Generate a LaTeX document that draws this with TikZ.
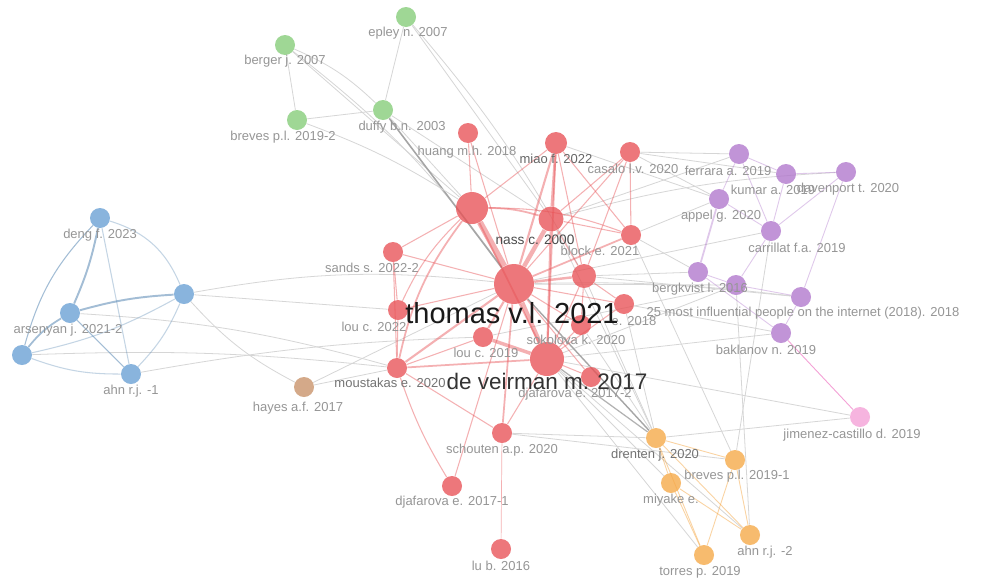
\documentclass[tikz,border=0pt]{standalone}
\usepackage{fontspec}
\setmainfont{Liberation Sans}
\usetikzlibrary{positioning}
\pgfdeclarelayer{bg}
\pgfdeclarelayer{edges}
\pgfsetlayers{bg,edges,main}

\definecolor{vred}{RGB}{232,82,86}
\definecolor{vgreen}{RGB}{132,204,120}
\definecolor{vblue}{RGB}{104,160,212}
\definecolor{vpurple}{RGB}{176,118,204}
\definecolor{vorange}{RGB}{246,168,70}
\definecolor{vbrown}{RGB}{200,146,104}
\definecolor{vpink}{RGB}{244,160,214}
\definecolor{lblgray}{RGB}{150,150,150}

\begin{document}
\begin{tikzpicture}[x=0.02cm, y=-0.02cm,
    pub/.style={circle, inner sep=0pt, minimum size=0.4cm, fill opacity=0.78},
    lbl/.style={font=\fontsize{7.4}{8}\selectfont, text=lblgray, inner sep=0pt},
    redge/.style={draw=vred, draw opacity=0.45, line width=0.6pt},
    gedge/.style={draw=black!16, line width=0.45pt},
    bedge/.style={draw=vblue!85!black, draw opacity=0.55, line width=0.6pt},
    pedge/.style={draw=vpurple, draw opacity=0.4, line width=0.5pt},
    oedge/.style={draw=vorange, draw opacity=0.5, line width=0.5pt}]
  \begin{pgfonlayer}{bg}
    \fill[white] (0,0) rectangle (996,582);
  \end{pgfonlayer}
  \useasboundingbox (0,0) rectangle (996,582);

  % green cluster
  \node[pub, fill=vgreen] (epley) at (406,17) {};
  \node[pub, fill=vgreen] (berger) at (285,45) {};
  \node[pub, fill=vgreen] (brevesB) at (297,120) {};
  \node[pub, fill=vgreen] (duffy) at (383,110) {};
  % blue cluster
  \node[pub, fill=vblue] (deng) at (100,218) {};
  \node[pub, fill=vblue] (bx) at (184,294) {};
  \node[pub, fill=vblue] (arsenyan) at (70,313) {};
  \node[pub, fill=vblue] (by) at (22,355) {};
  \node[pub, fill=vblue] (ahnA) at (131,374) {};
  \node[pub, fill=vbrown] (hayes) at (304,387) {};
  % red cluster
  \node[pub, fill=vred, minimum size=0.8cm] (thomas) at (514,284) {};
  \node[pub, fill=vred, minimum size=0.68cm] (veirman) at (547,359) {};
  \node[pub, fill=vred, minimum size=0.5cm] (nass) at (551,219) {};
  \node[pub, fill=vred, minimum size=0.64cm] (rbig) at (472,208) {};
  \node[pub, fill=vred] (huang) at (468,133) {};
  \node[pub, fill=vred, minimum size=0.44cm] (miao) at (556,143) {};
  \node[pub, fill=vred] (casalo) at (630,152) {};
  \node[pub, fill=vred] (block) at (631,235) {};
  \node[pub, fill=vred] (sands) at (393,252) {};
  \node[pub, fill=vred] (louB) at (398,310) {};
  \node[pub, fill=vred, minimum size=0.48cm] (rmid) at (584,276) {};
  \node[pub, fill=vred] (rE) at (624,304) {};
  \node[pub, fill=vred] (sokolova) at (581,325) {};
  \node[pub, fill=vred] (louA) at (483,337) {};
  \node[pub, fill=vred] (moustakas) at (397,368) {};
  \node[pub, fill=vred] (djafB) at (591,377) {};
  \node[pub, fill=vred] (schouten) at (502,433) {};
  \node[pub, fill=vred] (djafA) at (452,486) {};
  \node[pub, fill=vred] (lub) at (501,549) {};
  % purple cluster
  \node[pub, fill=vpurple] (ferrara) at (739,154) {};
  \node[pub, fill=vpurple] (kumar) at (786,174) {};
  \node[pub, fill=vpurple] (davenport) at (846,172) {};
  \node[pub, fill=vpurple] (appel) at (719,199) {};
  \node[pub, fill=vpurple] (carrillat) at (771,231) {};
  \node[pub, fill=vpurple] (bergkvist) at (698,272) {};
  \node[pub, fill=vpurple] (px) at (736,285) {};
  \node[pub, fill=vpurple] (most) at (801,297) {};
  \node[pub, fill=vpurple] (baklanov) at (781,333) {};
  \node[pub, fill=vpink] (jimenez) at (860,417) {};
  % orange cluster
  \node[pub, fill=vorange] (drenten) at (656,438) {};
  \node[pub, fill=vorange] (brevesA) at (735,460) {};
  \node[pub, fill=vorange] (miyake) at (671,483) {};
  \node[pub, fill=vorange] (ahnB) at (750,535) {};
  \node[pub, fill=vorange] (torres) at (704,555) {};

  \begin{pgfonlayer}{edges}
    % gray links between clusters
    \draw[gedge] (berger) -- (brevesB);
    \draw[gedge] (berger) to[bend left=10] (duffy);
    \draw[gedge] (epley) -- (duffy);
    \draw[gedge] (brevesB) -- (duffy);
    \draw[gedge] (epley) -- (nass);
    \draw[gedge] (berger) to[bend left=8] (thomas);
    \draw[gedge] (berger) -- (rbig);
    \draw[gedge, draw=black!35, line width=0.9pt] (duffy) -- (thomas);
    \draw[gedge] (duffy) -- (rbig);
    \draw[gedge] (duffy) -- (nass);
    \draw[gedge] (brevesB) to[bend left=6] (rbig);
    \draw[gedge] (epley) to[bend left=6] (rmid);
    \draw[gedge] (bx) to[bend left=8] (thomas);
    \draw[gedge] (bx) to[bend right=10] (hayes);
    \draw[gedge] (bx) -- (louB);
    \draw[gedge] (arsenyan) to[bend left=6] (moustakas);
    \draw[gedge] (by) to[bend left=4] (moustakas);
    \draw[gedge] (ahnA) to[bend left=4] (louA);
    \draw[gedge] (hayes) -- (thomas);
    \draw[gedge] (hayes) -- (moustakas);
    \draw[gedge] (casalo) -- (ferrara);
    \draw[gedge] (casalo) -- (kumar);
    \draw[gedge] (casalo) -- (appel);
    \draw[gedge] (block) -- (appel);
    \draw[gedge] (block) -- (bergkvist);
    \draw[gedge] (nass) -- (ferrara);
    \draw[gedge] (nass) to[bend left=6] (davenport);
    \draw[gedge] (miao) -- (appel);
    \draw[gedge] (rmid) -- (bergkvist);
    \draw[gedge] (rmid) -- (most);
    \draw[gedge] (rE) -- (baklanov);
    \draw[gedge] (thomas) to[bend left=4] (most);
    \draw[gedge] (thomas) -- (carrillat);
    \draw[gedge] (thomas) -- (px);
    \draw[gedge] (veirman) -- (baklanov);
    \draw[gedge] (veirman) -- (px);
    \draw[gedge] (louA) -- (px);
    \draw[gedge, draw=black!35, line width=0.8pt] (drenten) -- (thomas);
    \draw[gedge, draw=black!30, line width=0.7pt] (drenten) -- (veirman);
    \draw[gedge] (drenten) -- (rmid);
    \draw[gedge] (drenten) -- (rE);
    \draw[gedge] (drenten) -- (schouten);
    \draw[gedge] (drenten) -- (nass);
    \draw[gedge] (drenten) -- (sokolova);
    \draw[gedge] (miyake) -- (veirman);
    \draw[gedge] (brevesA) -- (block);
    \draw[gedge] (brevesA) -- (carrillat);
    \draw[gedge] (torres) -- (veirman);
    \draw[gedge] (ahnB) -- (veirman);
    \draw[gedge] (ahnB) -- (px);
    \draw[gedge] (jimenez) -- (veirman);
    \draw[gedge] (jimenez) -- (drenten);
    \draw[gedge] (schouten) -- (brevesA);
    \draw[draw=vpink, line width=0.5pt] (jimenez) -- (baklanov);
    % blue links
    \draw[bedge, line width=1.1pt] (deng) to[bend left=6] (arsenyan);
    \draw[bedge] (deng) to[bend right=14] (by);
    \draw[bedge, draw opacity=0.35] (deng) -- (ahnA);
    \draw[bedge, draw opacity=0.35] (deng) to[bend left=25] (bx);
    \draw[bedge, line width=1.1pt] (arsenyan) to[bend left=6] (bx);
    \draw[bedge, line width=1pt] (arsenyan) to[bend right=10] (by);
    \draw[bedge] (arsenyan) -- (ahnA);
    \draw[bedge, draw opacity=0.35] (by) to[bend right=10] (ahnA);
    \draw[bedge, draw opacity=0.35] (by) to[bend right=8] (bx);
    \draw[bedge, draw opacity=0.35] (ahnA) to[bend right=10] (bx);
    % red links
    \draw[redge, line width=3.5pt] (thomas) -- (rbig);
    \draw[redge, line width=2.5pt] (thomas) -- (nass);
    \draw[redge, line width=2.5pt] (thomas) -- (veirman);
    \draw[redge, line width=1.2pt] (thomas) -- (miao);
    \draw[redge] (thomas) -- (huang);
    \draw[redge] (thomas) -- (casalo);
    \draw[redge, line width=1pt] (thomas) -- (block);
    \draw[redge] (thomas) -- (sands);
    \draw[redge] (thomas) -- (louB);
    \draw[redge, line width=1.4pt] (thomas) -- (rmid);
    \draw[redge] (thomas) -- (rE);
    \draw[redge] (thomas) -- (sokolova);
    \draw[redge, line width=1.2pt] (thomas) -- (louA);
    \draw[redge, line width=1.2pt] (thomas) -- (moustakas);
    \draw[redge] (thomas) -- (djafB);
    \draw[redge, line width=1pt] (thomas) -- (schouten);
    \draw[redge] (thomas) -- (djafA);
    \draw[redge, line width=1pt] (rbig) to[bend left=8] (nass);
    \draw[redge] (rbig) -- (huang);
    \draw[redge] (rbig) -- (miao);
    \draw[redge] (rbig) -- (sands);
    \draw[redge] (rbig) to[bend right=10] (louB);
    \draw[redge, line width=1pt] (rbig) to[bend right=12] (moustakas);
    \draw[redge] (rbig) to[bend left=10] (block);
    \draw[redge, line width=1pt] (rbig) -- (veirman);
    \draw[redge, line width=1.5pt] (nass) -- (miao);
    \draw[redge] (nass) -- (casalo);
    \draw[redge] (nass) -- (block);
    \draw[redge, line width=1.2pt] (nass) -- (veirman);
    \draw[redge] (nass) -- (rmid);
    \draw[redge] (miao) -- (rmid);
    \draw[redge, line width=1pt] (miao) -- (veirman);
    \draw[redge] (miao) -- (block);
    \draw[redge] (casalo) -- (block);
    \draw[redge] (casalo) -- (rmid);
    \draw[redge, line width=2pt] (veirman) -- (louA);
    \draw[redge, line width=1pt] (veirman) -- (moustakas);
    \draw[redge] (veirman) -- (rmid);
    \draw[redge] (veirman) -- (sokolova);
    \draw[redge] (veirman) -- (djafB);
    \draw[redge] (veirman) -- (schouten);
    \draw[redge] (veirman) -- (rE);
    \draw[redge] (moustakas) -- (louB);
    \draw[redge] (moustakas) -- (sands);
    \draw[redge] (moustakas) -- (louA);
    \draw[redge] (moustakas) -- (schouten);
    \draw[redge] (moustakas) to[bend right=6] (djafA);
    \draw[redge, line width=0.4pt] (schouten) -- (lub);
    \draw[redge] (rmid) -- (rE);
    \draw[redge] (rmid) -- (sokolova);
    \draw[redge] (sands) -- (louB);
    % purple links
    \draw[pedge] (ferrara) -- (kumar);
    \draw[pedge] (kumar) -- (davenport);
    \draw[pedge] (ferrara) -- (appel);
    \draw[pedge, line width=1pt] (appel) -- (bergkvist);
    \draw[pedge] (appel) -- (carrillat);
    \draw[pedge] (kumar) -- (carrillat);
    \draw[pedge] (carrillat) -- (px);
    \draw[pedge] (bergkvist) -- (px);
    \draw[pedge] (px) -- (most);
    \draw[pedge] (most) -- (baklanov);
    \draw[pedge] (bergkvist) -- (baklanov);
    \draw[pedge] (davenport) -- (carrillat);
    \draw[pedge] (davenport) -- (most);
    \draw[pedge] (ferrara) -- (carrillat);
    % orange links
    \draw[oedge] (drenten) -- (brevesA);
    \draw[oedge] (drenten) -- (miyake);
    \draw[oedge] (miyake) -- (torres);
    \draw[oedge] (brevesA) -- (ahnB);
    \draw[oedge] (brevesA) -- (torres);
    \draw[oedge] (miyake) -- (ahnB);
    \draw[oedge] (drenten) -- (ahnB);
    \draw[oedge] (drenten) -- (torres);
  \end{pgfonlayer}

  % labels
  \node[lbl] (t-epley) at (408,33) {epley n. 2007};
  \node[lbl] (t-berger) at (285,61) {berger j. 2007};
  \node[lbl] (t-brevesB) at (283,137) {breves p.l. 2019-2};
  \node[lbl] (t-duffy) at (402,127) {duffy b.n. 2003};
  \node[lbl] (t-deng) at (100,235) {deng f. 2023};
  \node[lbl] (t-arsenyan) at (68,330) {arsenyan j. 2021-2};
  \node[lbl] (t-ahnA) at (131,391) {ahn r.j. -1};
  \node[lbl] (t-hayes) at (298,408) {hayes a.f. 2017};
  \node[lbl] (t-huang) at (467,152) {huang m.h. 2018};
  \node[lbl, text=black!60] (t-miao) at (556,159) {miao f. 2022};
  \node[lbl] (t-casalo) at (633,169) {casalo l.v. 2020};
  \node[lbl] (t-block) at (600,251) {block e. 2021};
  \node[lbl] (t-sands) at (372,268) {sands s. 2022-2};
  \node[lbl] (t-louB) at (374,327) {lou c. 2022};
  \node[lbl] (t-rE) at (634,321) {e. 2018};
  \node[lbl] (t-sokolova) at (576,340) {sokolova k. 2020};
  \node[lbl] (t-louA) at (486,353) {lou c. 2019};
  \node[lbl, text=black!55] (t-moustakas) at (390,383) {moustakas e. 2020};
  \node[lbl] (t-djafB) at (575,394) {djafarova e. 2017-2};
  \node[lbl] (t-schouten) at (502,450) {schouten a.p. 2020};
  \node[lbl] (t-djafA) at (452,502) {djafarova e. 2017-1};
  \node[lbl] (t-lub) at (501,566) {lu b. 2016};
  \node[lbl] (t-ferrara) at (728,171) {ferrara a. 2019};
  \node[lbl] (t-kumar) at (773,190) {kumar a. 2019};
  \node[lbl] (t-davenport) at (848,189) {davenport t. 2020};
  \node[lbl] (t-appel) at (721,216) {appel g. 2020};
  \node[lbl] (t-carrillat) at (797,248) {carrillat f.a. 2019};
  \node[lbl] (t-bergkvist) at (700,289) {bergkvist l. 2016};
  \node[lbl] (t-most) at (803,313) {25 most influential people on the internet (2018). 2018};
  \node[lbl] (t-baklanov) at (766,350) {baklanov n. 2019};
  \node[lbl] (t-jimenez) at (852,435) {jimenez-castillo d. 2019};
  \node[lbl, text=black!55] (t-drenten) at (655,455) {drenten j. 2020};
  \node[lbl] (t-brevesA) at (737,476) {breves p.l. 2019-1};
  \node[lbl] (t-miyake) at (671,500) {miyake e.};
  \node[lbl] (t-ahnB) at (765,552) {ahn r.j. -2};
  \node[lbl] (t-torres) at (700,572) {torres p. 2019};
  \node[lbl, text=black!70, font=\fontsize{7.8}{9}\selectfont] (t-nass) at (535,240) {nass c. 2000};
  \node[lbl, text=black!80, font=\fontsize{12.8}{14}\selectfont] (t-veirman) at (547,381) {de veirman m. 2017};
  \node[lbl, text=black!90, font=\fontsize{16.5}{18}\selectfont] (t-thomas) at (512,313) {thomas v.l. 2021};
\end{tikzpicture}
\end{document}
